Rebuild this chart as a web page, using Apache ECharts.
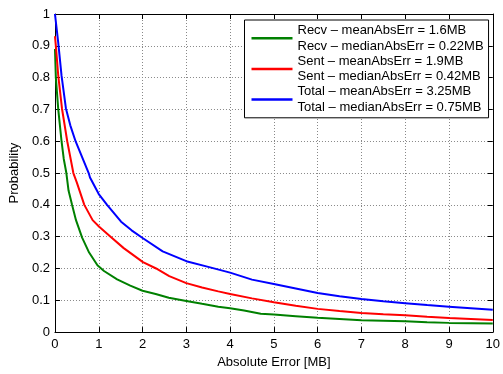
<!DOCTYPE html>
<html>
<head>
<meta charset="utf-8">
<script src="https://cdn.jsdelivr.net/npm/echarts@6/dist/echarts.min.js"></script>
<style>html,body{margin:0;padding:0;background:#fff;}#c{width:503px;height:374px;}</style>
</head>
<body>
<div id="c"></div>
<script>
// ---- data ----
const seriesNames = ['Recv', 'Sent', 'Total'];
const legendTexts = [
  'Recv \u2013 meanAbsErr = 1.6MB\nRecv \u2013 medianAbsErr = 0.22MB',
  'Sent \u2013 meanAbsErr = 1.9MB\nSent \u2013 medianAbsErr = 0.42MB',
  'Total \u2013 meanAbsErr = 3.25MB\nTotal \u2013 medianAbsErr = 0.75MB'
];
const recvX = [0, 0.02, 0.075, 0.15, 0.2, 0.26, 0.31, 0.39, 0.48, 0.62, 0.78, 0.97, 1.12, 1.42, 1.72, 2.0, 2.3, 2.6, 3.0, 3.36, 3.73, 4.0, 4.32, 4.7, 5.0, 5.5, 6.0, 6.5, 7.0, 7.5, 8.0, 8.5, 9.0, 9.5, 10.0];
const recvY = [0.89, 0.80, 0.70, 0.60, 0.545, 0.50, 0.445, 0.40, 0.352, 0.297, 0.25, 0.21, 0.192, 0.166, 0.146, 0.13, 0.12, 0.108, 0.098, 0.089, 0.08, 0.075, 0.068, 0.058, 0.055, 0.05, 0.045, 0.041, 0.037, 0.036, 0.034, 0.031, 0.029, 0.028, 0.027];
const sentX = [0, 0.02, 0.075, 0.16, 0.28, 0.42, 0.5, 0.67, 0.86, 1.01, 1.27, 1.57, 2.01, 2.31, 2.61, 3.0, 3.36, 3.73, 4.0, 4.5, 5.0, 5.5, 6.0, 6.5, 7.0, 7.5, 8.0, 8.5, 9.0, 9.5, 10.0];
const sentY = [0.93, 0.90, 0.806, 0.703, 0.60, 0.50, 0.47, 0.40, 0.352, 0.331, 0.30, 0.264, 0.22, 0.20, 0.176, 0.154, 0.14, 0.128, 0.12, 0.106, 0.094, 0.083, 0.073, 0.066, 0.06, 0.056, 0.053, 0.048, 0.044, 0.041, 0.038];
const totalX = [0, 0.075, 0.15, 0.25, 0.35, 0.47, 0.62, 0.77, 0.8, 1.0, 1.19, 1.51, 1.75, 2.01, 2.46, 3.0, 3.5, 4.0, 4.5, 5.0, 5.5, 6.0, 6.5, 7.0, 7.5, 8.0, 8.5, 9.0, 9.5, 10.0];
const totalY = [1.0, 0.909, 0.806, 0.703, 0.65, 0.60, 0.55, 0.50, 0.486, 0.434, 0.40, 0.347, 0.32, 0.295, 0.254, 0.223, 0.205, 0.187, 0.165, 0.151, 0.137, 0.123, 0.113, 0.104, 0.097, 0.091, 0.085, 0.080, 0.075, 0.070];
const xAxisTitle = 'Absolute Error [MB]';
const yAxisTitle = 'Probability';
const colors = ['#008000', '#ff0000', '#0000ff'];

// ---- chart ----
const pairs = (xs, ys) => xs.map((x, i) => [x, ys[i]]);
const datasets = [pairs(recvX, recvY), pairs(sentX, sentY), pairs(totalX, totalY)];
const font = 'Liberation Sans, Arial, Helvetica, sans-serif';
const gridLine = { show: true, lineStyle: { color: '#888', type: [1, 2], width: 1 } };
const axisLine = { show: true, onZero: false, lineStyle: { color: '#000', width: 1 } };
const tick = { show: true, inside: true, length: 5, lineStyle: { color: '#000' } };

const chart = echarts.init(document.getElementById('c'), null, { renderer: 'canvas' });
chart.setOption({
  animation: false,
  backgroundColor: '#fff',
  grid: { left: 50, right: 6, top: 14, bottom: 37, containLabel: false },
  legend: {
    orient: 'vertical',
    left: 244.5,
    top: 20,
    data: seriesNames,
    formatter: name => legendTexts[seriesNames.indexOf(name)],
    icon: 'rect',
    itemWidth: 41,
    itemHeight: 2.5,
    itemGap: 0,
    padding: [3, 5, 3, 7],
    borderColor: '#000',
    borderWidth: 1,
    backgroundColor: '#fff',
    textStyle: { fontFamily: font, fontSize: 13, color: '#000', lineHeight: 15.3 }
  },
  xAxis: [
    {
      type: 'value', min: 0, max: 10, interval: 1,
      name: xAxisTitle, nameLocation: 'middle', nameGap: 21,
      nameTextStyle: { fontFamily: font, fontSize: 13, color: '#000' },
      axisLine: axisLine, axisTick: tick, splitLine: gridLine,
      axisLabel: { fontFamily: font, fontSize: 13, color: '#000', margin: 6 }
    },
    {
      type: 'value', position: 'top', min: 0, max: 10, interval: 1,
      axisLine: axisLine, axisTick: tick, splitLine: { show: false },
      axisLabel: { show: false }
    }
  ],
  yAxis: [
    {
      type: 'value', min: 0, max: 1, interval: 0.1,
      name: yAxisTitle, nameLocation: 'middle', nameGap: 29,
      nameTextStyle: { fontFamily: font, fontSize: 13, color: '#000' },
      axisLine: axisLine, axisTick: tick, splitLine: gridLine,
      axisLabel: { fontFamily: font, fontSize: 13, color: '#000', margin: 5 }
    },
    {
      type: 'value', position: 'right', min: 0, max: 1, interval: 0.1,
      axisLine: axisLine, axisTick: tick, splitLine: { show: false },
      axisLabel: { show: false }
    }
  ],
  series: seriesNames.map((n, i) => ({
    name: n,
    type: 'line',
    data: datasets[i],
    showSymbol: false,
    symbol: 'none',
    color: colors[i],
    lineStyle: { color: colors[i], width: 2 },
    smooth: false,
    clip: true
  }))
});
</script>
</body>
</html>
